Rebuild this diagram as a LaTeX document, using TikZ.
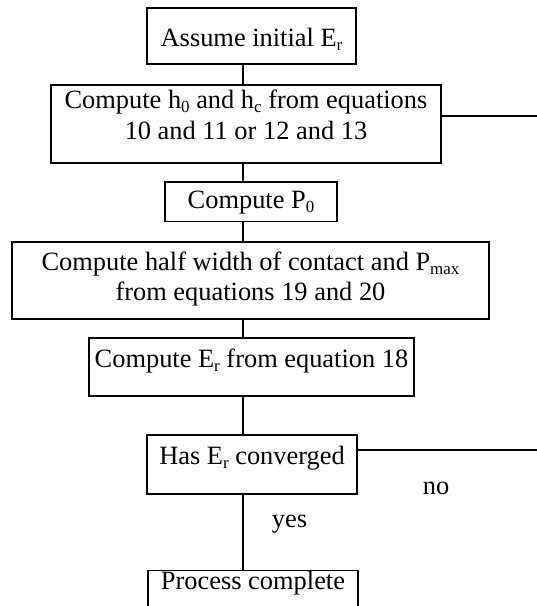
\documentclass[tikz,border=0pt]{standalone}
\usepackage{fontspec}
\setmainfont{Liberation Serif}
\newcommand\subtx[1]{\raisebox{-4bp}{\fontsize{17}{17}\selectfont #1}}
\newcommand\twoline[3]{\fontsize{26.5}{#1}\selectfont\begin{tabular}[t]{@{}c@{}}#2\\#3\end{tabular}}
\begin{document}
\begin{tikzpicture}[x=1bp,y=-1bp,
  box/.style={draw, line width=1.6bp, inner sep=0pt, anchor=north, font=\fontsize{26.5}{30}\selectfont},
  conn/.style={line width=1.3bp},
  lbl/.style={font=\fontsize{26.5}{30}\selectfont, inner sep=0pt, anchor=base}]
\clip (0,0) rectangle (537,606);
\useasboundingbox (0,0) rectangle (537,606);
\node[box, minimum width=209bp, text height=39bp, text depth=17bp] (b1) at (251.5,7) {Assume initial E\subtx{r}};
\node[box, minimum width=390bp, text height=24bp, text depth=54bp] (b2) at (246,84) {\twoline{31bp}{Compute h\subtx{0} and h\subtx{c} from equations}{10 and 11 or 12 and 13}};
\node[box, minimum width=172bp, text height=27bp, text depth=12.5bp] (b3) at (251,181) {Compute P\subtx{0}};
\node[box, minimum width=477bp, text height=29bp, text depth=48bp] (b4) at (250.5,241) {\twoline{30bp}{Compute half width of contact and P\subtx{max}}{from equations 19 and 20}};
\node[box, minimum width=325bp, text height=30bp, text depth=28bp] (b5) at (251.5,337) {Compute E\subtx{r} from equation 18};
\node[box, minimum width=210bp, text height=30bp, text depth=29bp] (b6) at (252,434) {Has E\subtx{r} converged};
\node[box, minimum width=210bp, text height=19.5bp, text depth=50bp] (b7) at (253,569.5) {Process complete};
\coordinate (sp) at (243,0);
\draw[conn] (b1.south -| sp) -- (b2.north -| sp);
\draw[conn] (b2.south -| sp) -- (b3.north -| sp);
\draw[conn] (b3.south -| sp) -- (b4.north -| sp);
\draw[conn] (b4.south -| sp) -- (b5.north -| sp);
\draw[conn] (b5.south -| sp) -- (b6.north -| sp);
\draw[conn] (b6.south -| sp) -- (b7.north -| sp);
\coordinate (eA) at (537,116);
\coordinate (eB) at (537,450);
\draw[conn] (b2.east |- eA) -- (eA);
\draw[conn] (b6.east |- eB) -- (eB);
\node[lbl] (no) at (436,494) {no};
\node[lbl] (yes) at (289.5,527) {yes};
\end{tikzpicture}
\end{document}
